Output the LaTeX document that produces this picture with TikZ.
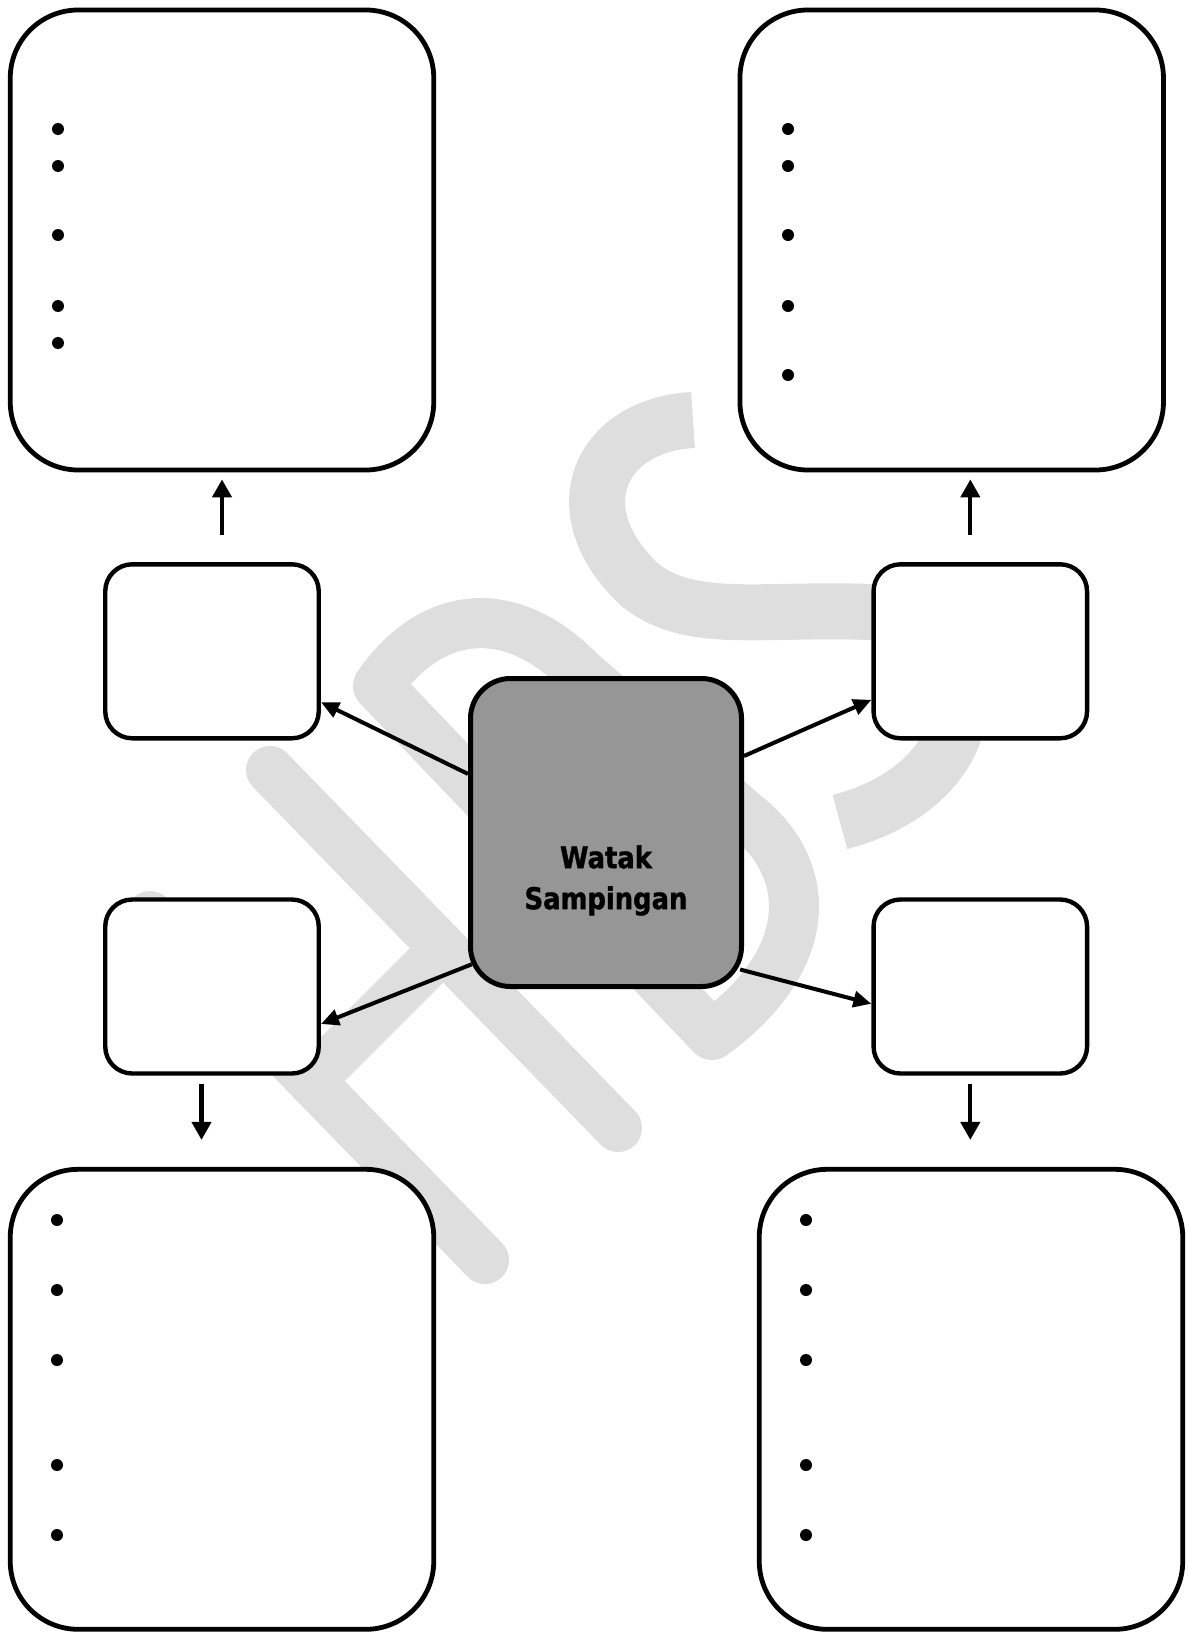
\documentclass[tikz,border=0pt]{standalone}
\usepackage{fontspec}
\usepackage{xcolor}
\usetikzlibrary{arrows.meta}

\newfontfamily\hubfont{DejaVu Sans}[FakeStretch=0.86, BoldFeatures={FakeBold=1.2}]
\definecolor{hubgray}{RGB}{150,150,150}
\definecolor{wmgray}{RGB}{222,222,222}

\begin{document}
\begin{tikzpicture}[
    x=1pt, y=-1pt,
    bigbox/.style={draw, line width=4.8pt, rounded corners=68pt, minimum width=423.5pt, minimum height=460pt, fill=white},
    smallbox/.style={draw, line width=4.4pt, rounded corners=27pt, minimum width=213.5pt, minimum height=174pt, fill=white},
    hub/.style={draw, line width=5pt, rounded corners=40pt, minimum width=271pt, minimum height=308pt, fill=hubgray},
    link/.style={-{Triangle[length=18pt, width=16pt]}, line width=4pt},
    updown/.style={-{Triangle[length=18pt, width=19pt]}, line width=4.2pt},
    wmark/.style={wmgray, line width=#1, line cap=round, line join=round},
    wmark/.default=50pt,
]
\fill[white] (0,0) rectangle (1187,1632);
\useasboundingbox (0,0) rectangle (1187,1632);

% watermark
\draw[wmark=48pt] (270,770) -- (618,1128);
\draw[wmark=48pt] (150,915) -- (485,1260);
\draw[wmark=48pt] (311,1081) -- (443,949);
\draw[wmark] (378,686) -- (712,1035) .. controls (815,960) and (815,870) .. (745,815) -- (580,672) .. controls (510,600) and (430,610) .. (378,686);
\draw[wmark=56pt, line cap=butt] (693,420) .. controls (600,425) and (560,510) .. (640,585) .. controls (690,625) and (760,608) .. (870,612) .. controls (990,620) and (1000,780) .. (840,822);

% outer boxes
\node[bigbox] (tlbig) at (222,240) {};
\node[bigbox] (trbig) at (951.7,240) {};
\node[bigbox] (blbig) at (222,1399.3) {};
\node[bigbox] (brbig) at (971,1399.3) {};

% bullets
\foreach \y in {129,166,235,306,343} \fill (58,\y) circle[radius=6pt];
\foreach \y in {129,166,235,306,375} \fill (788,\y) circle[radius=6pt];
\foreach \y in {1220,1290,1360,1465,1535} {
  \fill (57,\y) circle[radius=6pt];
  \fill (806,\y) circle[radius=6pt];
}

% small boxes
\node[smallbox] (tlsmall) at (212,651.3) {};
\node[smallbox] (trsmall) at (980.3,651.3) {};
\node[smallbox] (blsmall) at (212,986.5) {};
\node[smallbox] (brsmall) at (980.3,986.5) {};

% centre
\node[hub] (hub) at (606,832.5) {};
\node[font=\hubfont\bfseries\fontsize{30}{41}\selectfont, align=center] (hubtext) at ([yshift=-48pt]hub.center) {Watak\\Sampingan};

% arrows
\draw[link] (hub.157.3) -- (tlsmall.-25);
\draw[link] (hub.29) -- (trsmall.204.3);
\draw[link, shorten <=-4pt] (hub.224.7) -- (blsmall.341.3);
\draw[link, shorten <=-4pt] (hub.315.4) -- (brsmall.189.7);

\draw[updown, shorten <=27pt, shorten >=7pt] ([xshift=10pt]tlsmall.north) -- ([xshift=10pt]tlsmall.north |- tlbig.south);
\draw[updown, shorten <=27pt, shorten >=7pt] ([xshift=-10pt]trsmall.north) -- ([xshift=-10pt]trsmall.north |- trbig.south);
\draw[updown, shorten <=8pt, shorten >=27pt] ([xshift=-10.5pt]blsmall.south) -- ([xshift=-10.5pt]blsmall.south |- blbig.north);
\draw[updown, shorten <=8pt, shorten >=27pt] ([xshift=-10pt]brsmall.south) -- ([xshift=-10pt]brsmall.south |- brbig.north);

\end{tikzpicture}
\end{document}
